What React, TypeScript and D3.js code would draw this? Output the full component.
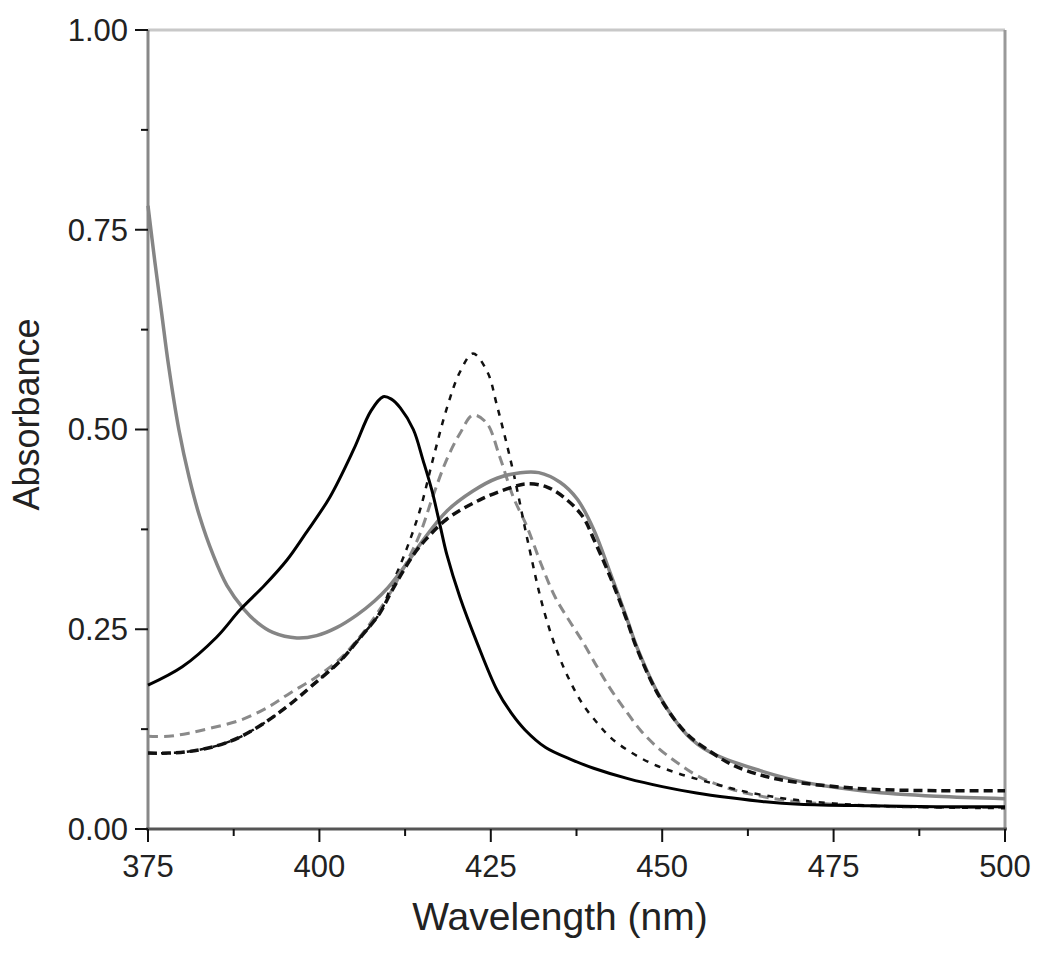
import React from "react";
import * as d3 from "d3";

const blackSolidX = [375, 380, 385, 388.4, 392, 395.3, 398, 401.5, 405, 407.5, 409.3, 410.5, 411.8, 413.7, 415.1, 416.4, 417.6, 418.6, 420.5, 423, 425.9, 428, 430, 433, 437, 440, 445, 450, 455, 460, 465, 470, 480, 490, 500];
const blackSolidY = [0.18, 0.203, 0.24, 0.274, 0.305, 0.337, 0.37, 0.415, 0.475, 0.523, 0.541, 0.538, 0.527, 0.5, 0.462, 0.424, 0.38, 0.343, 0.29, 0.233, 0.174, 0.145, 0.124, 0.102, 0.086, 0.076, 0.063, 0.053, 0.045, 0.039, 0.034, 0.031, 0.029, 0.028, 0.028];

const graySolidX = [375, 376, 377, 378, 379.5, 381, 382.5, 384.5, 386.5, 389, 391, 393.2, 396.7, 399.6, 402.5, 405.5, 408, 410, 412.8, 415, 418.6, 422.4, 425.9, 429.3, 432, 435.1, 437.6, 440, 442.4, 444.9, 446.3, 449.7, 453.6, 457, 464.3, 471, 480, 490, 500];
const graySolidY = [0.78, 0.71, 0.645, 0.58, 0.5, 0.44, 0.392, 0.343, 0.305, 0.275, 0.258, 0.246, 0.239, 0.242, 0.252, 0.268, 0.285, 0.302, 0.333, 0.36, 0.398, 0.423, 0.439, 0.446, 0.446, 0.434, 0.413, 0.375, 0.321, 0.262, 0.228, 0.165, 0.118, 0.096, 0.073, 0.058, 0.047, 0.041, 0.038];

const thickDashX = [375, 378, 381, 385, 388.4, 392, 395.7, 399, 403, 406, 408.8, 410.5, 413.7, 415.7, 418.6, 423.4, 428.2, 430.3, 433.2, 436.1, 438.5, 440, 442.4, 444.9, 446.3, 449.7, 453.6, 457, 460.3, 465, 470, 480, 490, 500];
const thickDashY = [0.095, 0.095, 0.097, 0.104, 0.115, 0.133, 0.156, 0.18, 0.21, 0.24, 0.27, 0.297, 0.343, 0.364, 0.388, 0.412, 0.428, 0.432, 0.428, 0.412, 0.39, 0.363, 0.316, 0.26, 0.226, 0.164, 0.119, 0.097, 0.08, 0.066, 0.058, 0.05, 0.048, 0.048];

const thinDashX = [375, 378, 381, 385, 388.4, 392, 395.7, 399, 403, 406, 408.8, 410.3, 412.7, 414.7, 416.6, 418.6, 420.5, 422.4, 424.5, 425.9, 428.2, 430.4, 432.6, 434.6, 436.5, 438.5, 440.5, 442.4, 444.9, 448.2, 452.2, 457, 462, 468, 475, 485, 500];
const thinDashY = [0.095, 0.095, 0.097, 0.104, 0.115, 0.133, 0.156, 0.18, 0.21, 0.24, 0.27, 0.3, 0.35, 0.4, 0.464, 0.527, 0.572, 0.595, 0.572, 0.53, 0.45, 0.36, 0.278, 0.224, 0.186, 0.155, 0.133, 0.115, 0.099, 0.083, 0.07, 0.058, 0.047, 0.038, 0.032, 0.028, 0.026];

const grayDashX = [375, 378, 381, 384.5, 388.4, 392, 395.7, 399.5, 403, 406.5, 410.3, 412.5, 414.7, 416.5, 418.6, 420.5, 422.4, 424.4, 426.3, 428.3, 430.2, 432.5, 434.4, 436.5, 438.5, 440.5, 442.4, 444.6, 446.8, 449.2, 452.2, 455.5, 460, 465, 470, 480, 490, 500];
const grayDashY = [0.116, 0.116, 0.12, 0.127, 0.136, 0.15, 0.17, 0.19, 0.213, 0.247, 0.295, 0.33, 0.37, 0.415, 0.463, 0.495, 0.518, 0.508, 0.466, 0.415, 0.38, 0.328, 0.29, 0.26, 0.233, 0.203, 0.176, 0.149, 0.124, 0.103, 0.083, 0.065, 0.05, 0.04, 0.034, 0.029, 0.027, 0.027];

const xMajorTicks = [375, 400, 425, 450, 475, 500];
const xMinorTicks = [387.5, 412.5, 437.5, 462.5, 487.5];
const yMajorTicks = [0, 0.25, 0.5, 0.75, 1.0];
const yMinorTicks = [0.125, 0.375, 0.625, 0.875];

const xLabel = "Wavelength (nm)";
const yLabel = "Absorbance";

const W = 1050;
const H = 965;
const left = 148;
const right = 1005;
const top = 30;
const bottom = 829;

export default function App() {
  const x = d3.scaleLinear().domain([375, 500]).range([left, right]);
  const y = d3.scaleLinear().domain([0, 1]).range([bottom, top]);

  const mk = (xs: number[], ys: number[]) =>
    d3
      .line<number>()
      .x((_, i) => x(xs[i]))
      .y((_, i) => y(ys[i]))
      .curve(d3.curveCatmullRom.alpha(0.5))(ys as any) || "";

  const series = [
    { d: mk(grayDashX, grayDashY), stroke: "#8a8a8a", w: 3, dash: "10,6" },
    { d: mk(thinDashX, thinDashY), stroke: "#111", w: 2.5, dash: "6,7" },
    { d: mk(graySolidX, graySolidY), stroke: "#858585", w: 3.5, dash: undefined },
    { d: mk(thickDashX, thickDashY), stroke: "#111", w: 3.5, dash: "9,5" },
    { d: mk(blackSolidX, blackSolidY), stroke: "#000", w: 3, dash: undefined },
  ];

  const font = "'Liberation Sans', Arial, sans-serif";

  return (
    <svg
      width={W}
      height={H}
      style={{ position: "absolute", left: 0, top: 0, background: "#fff" }}
      fontFamily={font}
    >
      <rect x={0} y={0} width={W} height={H} fill="#fff" />
      <line x1={left} x2={right} y1={top} y2={top} stroke="#c8c8c8" strokeWidth={3} />
      <line x1={right} x2={right} y1={top} y2={bottom} stroke="#999" strokeWidth={3} />
      <line x1={left} x2={left} y1={top} y2={bottom} stroke="#888" strokeWidth={3} />
      <line x1={left - 2} x2={right + 2} y1={bottom} y2={bottom} stroke="#555" strokeWidth={3} />

      {series.map((s, i) => (
        <path key={i} d={s.d} fill="none" stroke={s.stroke} strokeWidth={s.w} strokeDasharray={s.dash} />
      ))}

      {xMajorTicks.map((t) => (
        <g key={"xm" + t}>
          <line x1={x(t)} x2={x(t)} y1={bottom} y2={bottom + 13} stroke="#111" strokeWidth={2} />
          <text x={x(t)} y={bottom + 48} textAnchor="middle" fontSize={31} fill="#222">
            {t}
          </text>
        </g>
      ))}
      {xMinorTicks.map((t) => (
        <line key={"xn" + t} x1={x(t)} x2={x(t)} y1={bottom} y2={bottom + 7} stroke="#111" strokeWidth={2} />
      ))}
      {yMajorTicks.map((t) => (
        <g key={"ym" + t}>
          <line x1={left - 13} x2={left} y1={y(t)} y2={y(t)} stroke="#111" strokeWidth={2} />
          <text x={left - 20} y={y(t)} dy="0.35em" textAnchor="end" fontSize={31} fill="#222">
            {t.toFixed(2)}
          </text>
        </g>
      ))}
      {yMinorTicks.map((t) => (
        <line key={"yn" + t} x1={left - 7} x2={left} y1={y(t)} y2={y(t)} stroke="#111" strokeWidth={2} />
      ))}

      <text x={560} y={930} textAnchor="middle" fontSize={39} fill="#222">
        {xLabel}
      </text>
      <text
        transform={`translate(39, ${(top + bottom) / 2 - 15}) rotate(-90)`}
        textAnchor="middle"
        fontSize={36}
        fill="#222"
      >
        {yLabel}
      </text>
    </svg>
  );
}
